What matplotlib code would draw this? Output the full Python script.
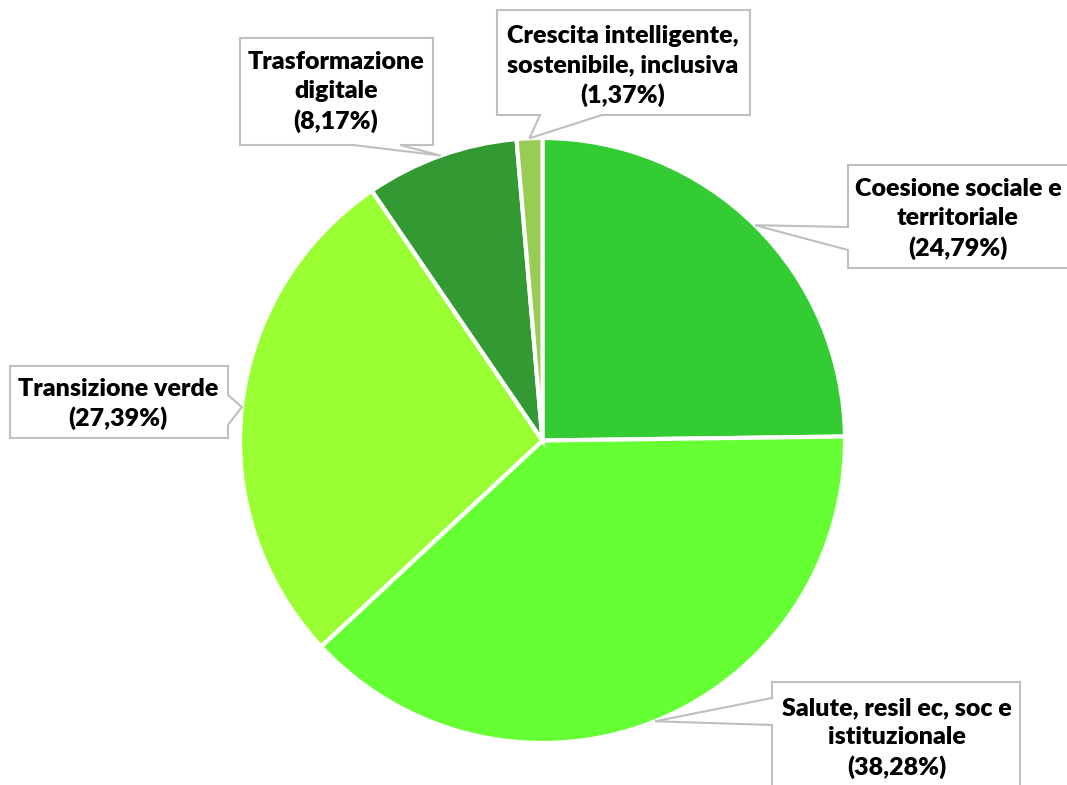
import numpy as np
import matplotlib.pyplot as plt
from matplotlib.patches import Polygon

# data
labels = ["Coesione sociale e\nterritoriale",
          "Salute, resil ec, soc e\nistituzionale",
          "Transizione verde",
          "Trasformazione\ndigitale",
          "Crescita intelligente,\nsostenibile, inclusiva"]
values = [24.79, 38.28, 27.39, 8.17, 1.37]
colors = ["#33CC33", "#66FF33", "#99FF33", "#339933", "#99CC55"]

# callout layout in pixels: box (x0, y0, x1, y1), side of pointer, pointer base, text centre
boxes = [
    ((848, 165, 1080, 268), "left", (227, 250), (958, 219)),
    ((772, 682, 1020, 800), "left", (698, 725), (897, 738)),
    ((10, 366, 228, 438), "right", (395, 425), (118, 404)),
    ((240, 38, 433, 145), "bottom", (353, 400), (336, 92)),
    ((497, 10, 750, 115), "bottom", (540, 602), (623, 66)),
]

cx, cy, r = 542.5, 440.5, 302.5

fig = plt.figure(figsize=(10.67, 7.85), dpi=100)
ax = fig.add_axes([0, 0, 1, 1])

wedges, _ = ax.pie(values, colors=colors, startangle=-90, counterclock=True,
                   center=(cx, cy), radius=r,
                   wedgeprops=dict(edgecolor="white", linewidth=3))
ax.set_xlim(0, 1067)
ax.set_ylim(785, 0)
ax.set_aspect("equal")
ax.axis("off")


def callout_poly(box, side, base, tip):
    x0, y0, x1, y1 = box
    b0, b1 = base
    if side == "left":
        pts = [(x0, y0), (x1, y0), (x1, y1), (x0, y1), (x0, b1), tip, (x0, b0)]
    elif side == "right":
        pts = [(x0, y0), (x1, y0), (x1, b0), tip, (x1, b1), (x1, y1), (x0, y1)]
    else:
        pts = [(x0, y0), (x1, y0), (x1, y1), (b1, y1), tip, (b0, y1), (x0, y1)]
    return pts


for w, lab, v, (box, side, base, tc) in zip(wedges, labels, values, boxes):
    mid = np.deg2rad((w.theta1 + w.theta2) / 2)
    tip = (cx + r * np.cos(mid), cy + r * np.sin(mid))
    pts = callout_poly(box, side, base, tip)
    ax.add_patch(Polygon(pts, closed=True, facecolor="white",
                         edgecolor="#BFBFBF", linewidth=1.5, zorder=3))
    ax.text(tc[0], tc[1],
            lab + "\n(" + f"{v:.2f}".replace(".", ",") + "%)",
            ha="center", va="center", fontsize=18, fontweight="heavy",
            family="Lato", linespacing=1.36, zorder=4)

fig.savefig("out.png", dpi=100)
